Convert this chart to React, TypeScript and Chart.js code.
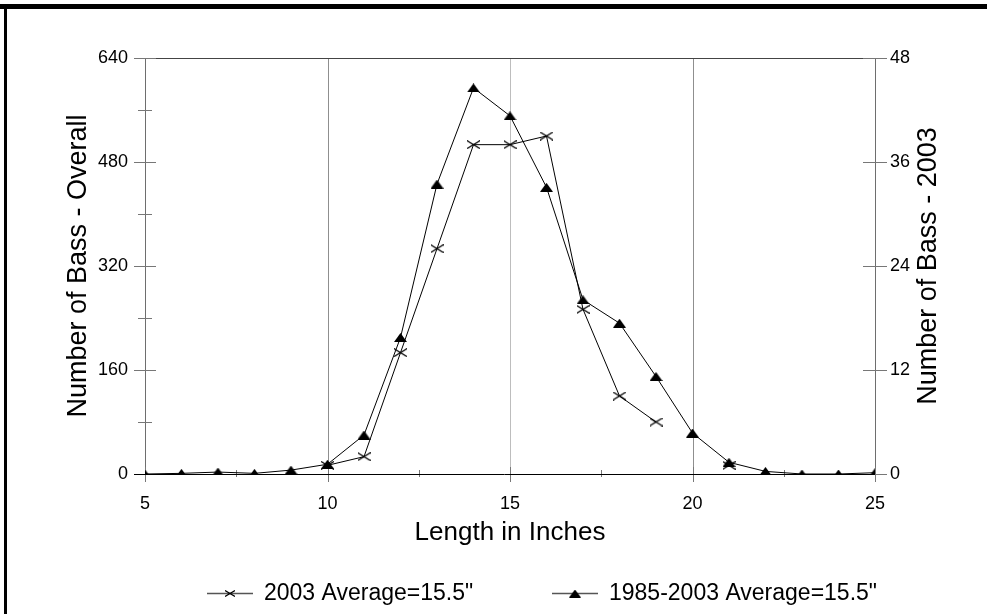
import React, { useEffect, useRef } from "react";
import { Chart, registerables } from "chart.js";

Chart.register(...registerables);

// ---- data ----
const lengths = [5, 6, 7, 8, 9, 10, 11, 12, 13, 14, 15, 16, 17, 18, 19, 20, 21, 22, 23, 24, 25];
const overallCounts = [0, 1, 3, 1, 6, 15, 60, 210, 446, 594, 551, 441, 268, 232, 150, 63, 18, 4, 0, 0, 2];
const counts2003: (number | null)[] = [null, null, null, null, null, 1, 2, 14, 26, 38, 38, 39, 19, 9, 6, null, 1, null, null, null, null];
const seriesLabels = ['2003 Average=15.5"', '1985-2003 Average=15.5"'];
const xTickValues = [5, 10, 15, 20, 25];
const xMinorTicks = [7.5, 12.5, 17.5, 22.5];
const xGridValues = [10, 15, 20];
const leftTickValues = [0, 160, 320, 480, 640];
const leftMinorTicks = [80, 240, 400, 560];
const rightTickValues = [0, 12, 24, 36, 48];
const xTitle = "Length in Inches";
const leftTitle = "Number of Bass - Overall";
const rightTitle = "Number of Bass - 2003";

const FONT = '"Liberation Sans", Arial, sans-serif';

function makeTriangle(w: number, h: number) {
  const c = document.createElement("canvas");
  c.width = w;
  c.height = h;
  const g = c.getContext("2d")!;
  g.fillStyle = "#000";
  g.beginPath();
  g.moveTo(w / 2, 0);
  g.lineTo(w, h);
  g.lineTo(0, h);
  g.closePath();
  g.fill();
  return c;
}

function makeCross(w: number, h: number, lw: number) {
  const c = document.createElement("canvas");
  c.width = w;
  c.height = h;
  const g = c.getContext("2d")!;
  g.strokeStyle = "#000";
  g.lineWidth = lw;
  g.beginPath();
  g.moveTo(0, 0.5);
  g.lineTo(w, h - 0.5);
  g.moveTo(w, 0.5);
  g.lineTo(0, h - 0.5);
  g.stroke();
  return c;
}

const px = (v: number) => Math.round(v) + 0.5;

export default function App() {
  const ref = useRef<HTMLCanvasElement>(null);

  useEffect(() => {
    const canvas = ref.current!;
    const tri = makeTriangle(13, 9);
    const cross = makeCross(13, 9, 1.2);
    const triSmall = makeTriangle(12, 8);
    const crossSmall = makeCross(10, 7, 1.2);

    const decor = {
      id: "decor",
      beforeDatasetsDraw(chart: any) {
        const { ctx, chartArea: a, scales } = chart;
        const x = scales.x, y = scales.y, y1 = scales.y1;
        ctx.save();
        ctx.lineWidth = 1;
        xGridValues.forEach((v) => {
          const xx = px(x.getPixelForValue(v));
          ctx.strokeStyle = v === 15 ? "#bdbdbd" : "#8f8f8f";
          ctx.beginPath();
          ctx.moveTo(xx, a.top);
          ctx.lineTo(xx, a.bottom);
          ctx.stroke();
        });
        ctx.strokeStyle = "#444";
        ctx.beginPath();
        ctx.moveTo(a.left, px(a.top));
        ctx.lineTo(a.right, px(a.top));
        ctx.stroke();
        ctx.strokeStyle = "#6e6e6e";
        ctx.beginPath();
        ctx.moveTo(px(a.left), a.top);
        ctx.lineTo(px(a.left), a.bottom);
        ctx.moveTo(px(a.right), a.top);
        ctx.lineTo(px(a.right), a.bottom);
        ctx.stroke();
        ctx.strokeStyle = "#777";
        ctx.beginPath();
        leftTickValues.forEach((v) => {
          const yy = px(y.getPixelForValue(v));
          ctx.moveTo(a.left - 11, yy);
          ctx.lineTo(a.left + 11, yy);
        });
        leftMinorTicks.forEach((v) => {
          const yy = px(y.getPixelForValue(v));
          ctx.moveTo(a.left - 7, yy);
          ctx.lineTo(a.left + 7, yy);
        });
        rightTickValues.forEach((v) => {
          const yy = px(y1.getPixelForValue(v));
          ctx.moveTo(a.right - 12, yy);
          ctx.lineTo(a.right + 12, yy);
        });
        xTickValues.forEach((v) => {
          const xx = px(x.getPixelForValue(v));
          ctx.moveTo(xx, a.bottom - 7);
          ctx.lineTo(xx, a.bottom + 8);
        });
        xMinorTicks.forEach((v) => {
          const xx = px(x.getPixelForValue(v));
          ctx.moveTo(xx, a.bottom - 4);
          ctx.lineTo(xx, a.bottom + 3);
        });
        ctx.stroke();
        ctx.strokeStyle = "#000";
        ctx.beginPath();
        ctx.moveTo(a.left - 11, px(a.bottom));
        ctx.lineTo(a.right, px(a.bottom));
        ctx.stroke();
        ctx.restore();
      },
      afterDraw(chart: any) {
        const { ctx, chartArea: a } = chart;
        ctx.save();
        ctx.fillStyle = "#000";
        ctx.fillRect(0, 4, 987, 5);
        ctx.fillRect(4, 4, 3, 610);
        ctx.textAlign = "center";
        ctx.textBaseline = "middle";
        ctx.font = `26px ${FONT}`;
        ctx.fillText(xTitle, (a.left + a.right) / 2, 533);
        const midY = (a.top + a.bottom) / 2;
        ctx.font = `27px ${FONT}`;
        ctx.save();
        ctx.translate(79, midY);
        ctx.rotate(-Math.PI / 2);
        ctx.fillText(leftTitle, 0, 0);
        ctx.restore();
        ctx.save();
        ctx.translate(929, midY);
        ctx.rotate(-Math.PI / 2);
        ctx.fillText(rightTitle, 0, 0);
        ctx.restore();
        const ly = 593;
        ctx.font = `23px ${FONT}`;
        ctx.textAlign = "left";
        const items = [
          { x0: 207, marker: crossSmall, label: seriesLabels[0] },
          { x0: 552, marker: triSmall, label: seriesLabels[1] },
        ];
        items.forEach((it) => {
          ctx.strokeStyle = "#555";
          ctx.lineWidth = 1.5;
          ctx.beginPath();
          ctx.moveTo(it.x0, ly + 0.5);
          ctx.lineTo(it.x0 + 46, ly + 0.5);
          ctx.stroke();
          ctx.drawImage(it.marker, it.x0 + 23 - it.marker.width / 2, ly - it.marker.height / 2 + 0.5);
          ctx.fillStyle = "#000";
          ctx.fillText(it.label, it.x0 + 57, ly + 1);
        });
        ctx.restore();
      },
    };

    const chart = new Chart(canvas, {
      type: "line",
      data: {
        datasets: [
          {
            label: seriesLabels[1],
            data: lengths.map((v, i) => ({ x: v, y: overallCounts[i] })),
            yAxisID: "y",
            borderColor: "#000",
            backgroundColor: "#000",
            borderWidth: 1,
            pointStyle: tri as any,
            pointRadius: 6,
            tension: 0,
          },
          {
            label: seriesLabels[0],
            data: lengths.map((v, i) => ({ x: v, y: counts2003[i] })),
            yAxisID: "y1",
            borderColor: "#000",
            backgroundColor: "#000",
            borderWidth: 1,
            pointStyle: cross as any,
            pointRadius: 6,
            spanGaps: false,
            tension: 0,
          },
        ],
      },
      options: {
        responsive: false,
        animation: false,
        devicePixelRatio: 1,
        layout: { padding: { top: 58, left: 0, right: 0, bottom: 0 } },
        plugins: { legend: { display: false }, tooltip: { enabled: false }, title: { display: false } },
        scales: {
          x: {
            type: "linear",
            min: 5,
            max: 25,
            afterBuildTicks: (s: any) => {
              s.ticks = xTickValues.map((v) => ({ value: v }));
            },
            afterFit: (s: any) => {
              s.height = 140;
            },
            ticks: { color: "#000", font: { family: FONT, size: 18 }, padding: 19, maxRotation: 0 },
            grid: { display: false, drawTicks: false },
            border: { display: false },
          },
          y: {
            type: "linear",
            position: "left",
            min: 0,
            max: 640,
            afterBuildTicks: (s: any) => {
              s.ticks = leftTickValues.map((v) => ({ value: v }));
            },
            afterFit: (s: any) => {
              s.width = 145;
            },
            ticks: { color: "#000", font: { family: FONT, size: 18 }, padding: 17 },
            grid: { display: false, drawTicks: false },
            border: { display: false },
          },
          y1: {
            type: "linear",
            position: "right",
            min: 0,
            max: 48,
            afterBuildTicks: (s: any) => {
              s.ticks = rightTickValues.map((v) => ({ value: v }));
            },
            afterFit: (s: any) => {
              s.width = 112;
            },
            ticks: { color: "#000", font: { family: FONT, size: 18 }, padding: 15 },
            grid: { display: false, drawTicks: false },
            border: { display: false },
          },
        },
      },
      plugins: [decor],
    } as any);

    return () => chart.destroy();
  }, []);

  return (
    <div style={{ position: "absolute", left: 0, top: 0, width: 987, height: 614, background: "#fff" }}>
      <canvas ref={ref} width={987} height={614} style={{ display: "block" }} />
    </div>
  );
}
